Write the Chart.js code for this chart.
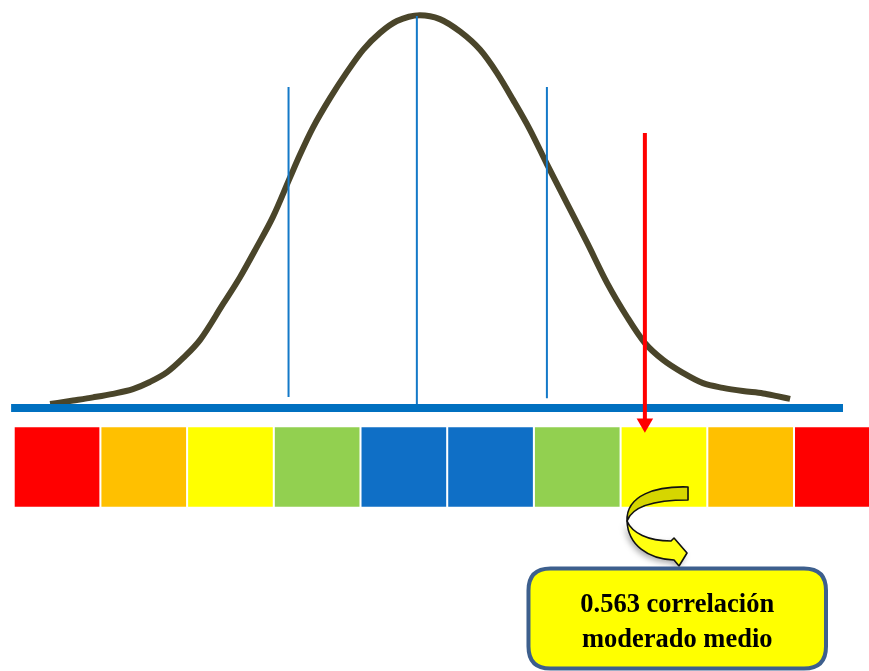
<!DOCTYPE html>
<html>
<head>
<meta charset="utf-8">
<script src="https://cdn.jsdelivr.net/npm/chart.js@4/dist/chart.umd.min.js"></script>
<style>
  html, body { margin: 0; padding: 0; background: #ffffff; }
  #wrap { width: 869px; height: 671px; }
</style>
</head>
<body>
<div id="wrap"><canvas id="bellChart" width="869" height="671"></canvas></div>
<script>
// correlation scale (x) and relative density (y)
var curveR = [-0.916, -0.863, -0.817, -0.771, -0.725, -0.686, -0.646, -0.609, -0.570, -0.517, -0.478, -0.439, -0.402, -0.363,
              -0.340, -0.310, -0.270, -0.231, -0.194, -0.155, -0.116, -0.063, -0.017, 0.030, 0.076, 0.115, 0.152, 0.191,
              0.230, 0.276, 0.323, 0.369, 0.415, 0.456, 0.498, 0.544, 0.590, 0.636, 0.682, 0.729, 0.761, 0.791];
var curveDensity = [0.010, 0.019, 0.027, 0.036, 0.048, 0.066, 0.091, 0.127, 0.173, 0.264, 0.332, 0.409, 0.485, 0.584,
                    0.642, 0.711, 0.787, 0.853, 0.909, 0.952, 0.982, 0.997, 0.987, 0.955, 0.909, 0.850, 0.782, 0.706,
                    0.619, 0.520, 0.419, 0.317, 0.231, 0.165, 0.122, 0.089, 0.063, 0.051, 0.043, 0.037, 0.030, 0.023];

var cellEdges = [-1, -0.8, -0.6, -0.4, -0.2, 0, 0.2, 0.4, 0.6, 0.8, 1];
var cellColors = ["#FF0000", "#FFC000", "#FFFF00", "#92D050", "#0F6FC6", "#0F6FC6", "#92D050", "#FFFF00", "#FFC000", "#FF0000"];

var markerR = [-0.366, -0.070, 0.230];
var markerTop = [0.815, 0.995, 0.815];
var markerBottom = [0.028, 0.010, 0.025];

var observedR = 0.456;
var calloutLines = ["0.563 correlación", "moderado medio"];

var ctx = document.getElementById("bellChart");

var cellData = [];
for (var i = 0; i < cellColors.length; i++) {
    cellData.push({ x: (cellEdges[i] + cellEdges[i + 1]) / 2, y: [-0.05, -0.25] });
}

var curveData = curveR.map(function (r, i) { return { x: r, y: curveDensity[i] }; });

var datasets = [];

datasets.push({
    type: 'bar',
    label: 'cells',
    data: cellData,
    backgroundColor: cellColors,
    borderWidth: 0,
    barThickness: 84,
    order: 9
});

datasets.push({
    label: 'curve',
    data: curveData,
    borderColor: "#4A452A",
    borderWidth: 6,
    pointRadius: 0,
    cubicInterpolationMode: 'monotone',
    fill: false,
    order: 6
});

datasets.push({
    label: 'baseline',
    data: [{ x: -1.006, y: 0 }, { x: 0.913, y: 0 }],
    borderColor: "#0070C0",
    borderWidth: 8,
    pointRadius: 0,
    order: 5
});

markerR.forEach(function (r, i) {
    datasets.push({
        label: 'marker' + i,
        data: [{ x: r, y: markerTop[i] }, { x: r, y: markerBottom[i] }],
        borderColor: "#1479C8",
        borderWidth: 2,
        pointRadius: 0,
        order: 3
    });
});

datasets.push({
    label: 'observed',
    data: [{ x: observedR, y: 0.698 }, { x: observedR, y: -0.039 }],
    borderColor: "#FF0000",
    borderWidth: 4,
    pointStyle: 'triangle',
    rotation: 180,
    pointRadius: [0, 9.5],
    pointBackgroundColor: "#FF0000",
    pointBorderWidth: 0,
    order: 1
});

// curly arrow + rounded callout box
var calloutPlugin = {
    id: 'callout',
    afterDraw: function (chart) {
        var c = chart.ctx;
        var xs = chart.scales.x, ys = chart.scales.y;

        // curly arrow, anchored at the tail corner
        var ax = xs.getPixelForValue(0.5555), ay = ys.getPixelForValue(-0.2005);
        c.save();
        c.translate(ax, ay);
        c.lineWidth = 1.6;
        c.strokeStyle = "#111111";
        c.lineJoin = 'round';
        c.shadowColor = "rgba(0,0,0,0.35)";
        c.shadowBlur = 6;
        c.shadowOffsetX = -2;
        c.shadowOffsetY = 3;

        c.beginPath();
        c.moveTo(-61, 34);
        c.bezierCurveTo(-56, 46, -40, 54, -17, 54);
        c.lineTo(-14, 51);
        c.lineTo(-1, 66);
        c.lineTo(-9, 79);
        c.lineTo(-14, 73);
        c.bezierCurveTo(-40, 72, -60, 58, -61, 34);
        c.closePath();
        c.fillStyle = "#FFFF10";
        c.fill();
        c.shadowColor = "transparent";
        c.stroke();

        c.beginPath();
        c.moveTo(0, 0);
        c.bezierCurveTo(-32, -1, -62, 8, -61, 34);
        c.bezierCurveTo(-56, 20, -35, 13, 0, 13);
        c.closePath();
        c.fillStyle = "#D6D600";
        c.fill();
        c.stroke();
        c.restore();

        // callout box
        var left = xs.getPixelForValue(0.1875), right = xs.getPixelForValue(0.8738);
        var top = ys.getPixelForValue(-0.4074), bottom = ys.getPixelForValue(-0.6612);
        var rad = 22;
        c.save();
        c.beginPath();
        c.moveTo(left + rad, top);
        c.lineTo(right - rad, top);
        c.quadraticCurveTo(right, top, right, top + rad);
        c.lineTo(right, bottom - rad);
        c.quadraticCurveTo(right, bottom, right - rad, bottom);
        c.lineTo(left + rad, bottom);
        c.quadraticCurveTo(left, bottom, left, bottom - rad);
        c.lineTo(left, top + rad);
        c.quadraticCurveTo(left, top, left + rad, top);
        c.closePath();
        c.fillStyle = "#FFFF00";
        c.fill();
        c.lineWidth = 4;
        c.strokeStyle = "#3D5F8D";
        c.stroke();

        c.fillStyle = "#000000";
        c.font = 'bold 26.5px "Liberation Serif", "Times New Roman", serif';
        c.textAlign = 'center';
        c.textBaseline = 'alphabetic';
        var cx = (left + right) / 2;
        c.fillText(calloutLines[0], cx, top + 43);
        c.fillText(calloutLines[1], cx, top + 78);
        c.restore();
    }
};

var bellChart = new Chart(ctx, {
    type: 'line',
    data: { datasets: datasets },
    options: {
        responsive: false,
        animation: false,
        layout: { padding: 0, autoPadding: false },
        plugins: {
            legend: { display: false },
            tooltip: { enabled: false }
        },
        scales: {
            x: { type: 'linear', display: false, offset: false, grid: { offset: false }, min: -1.0316, max: 0.973 },
            y: { type: 'linear', display: false, min: -0.6675, max: 1.0355 }
        }
    },
    plugins: [calloutPlugin]
});
</script>
</body>
</html>
